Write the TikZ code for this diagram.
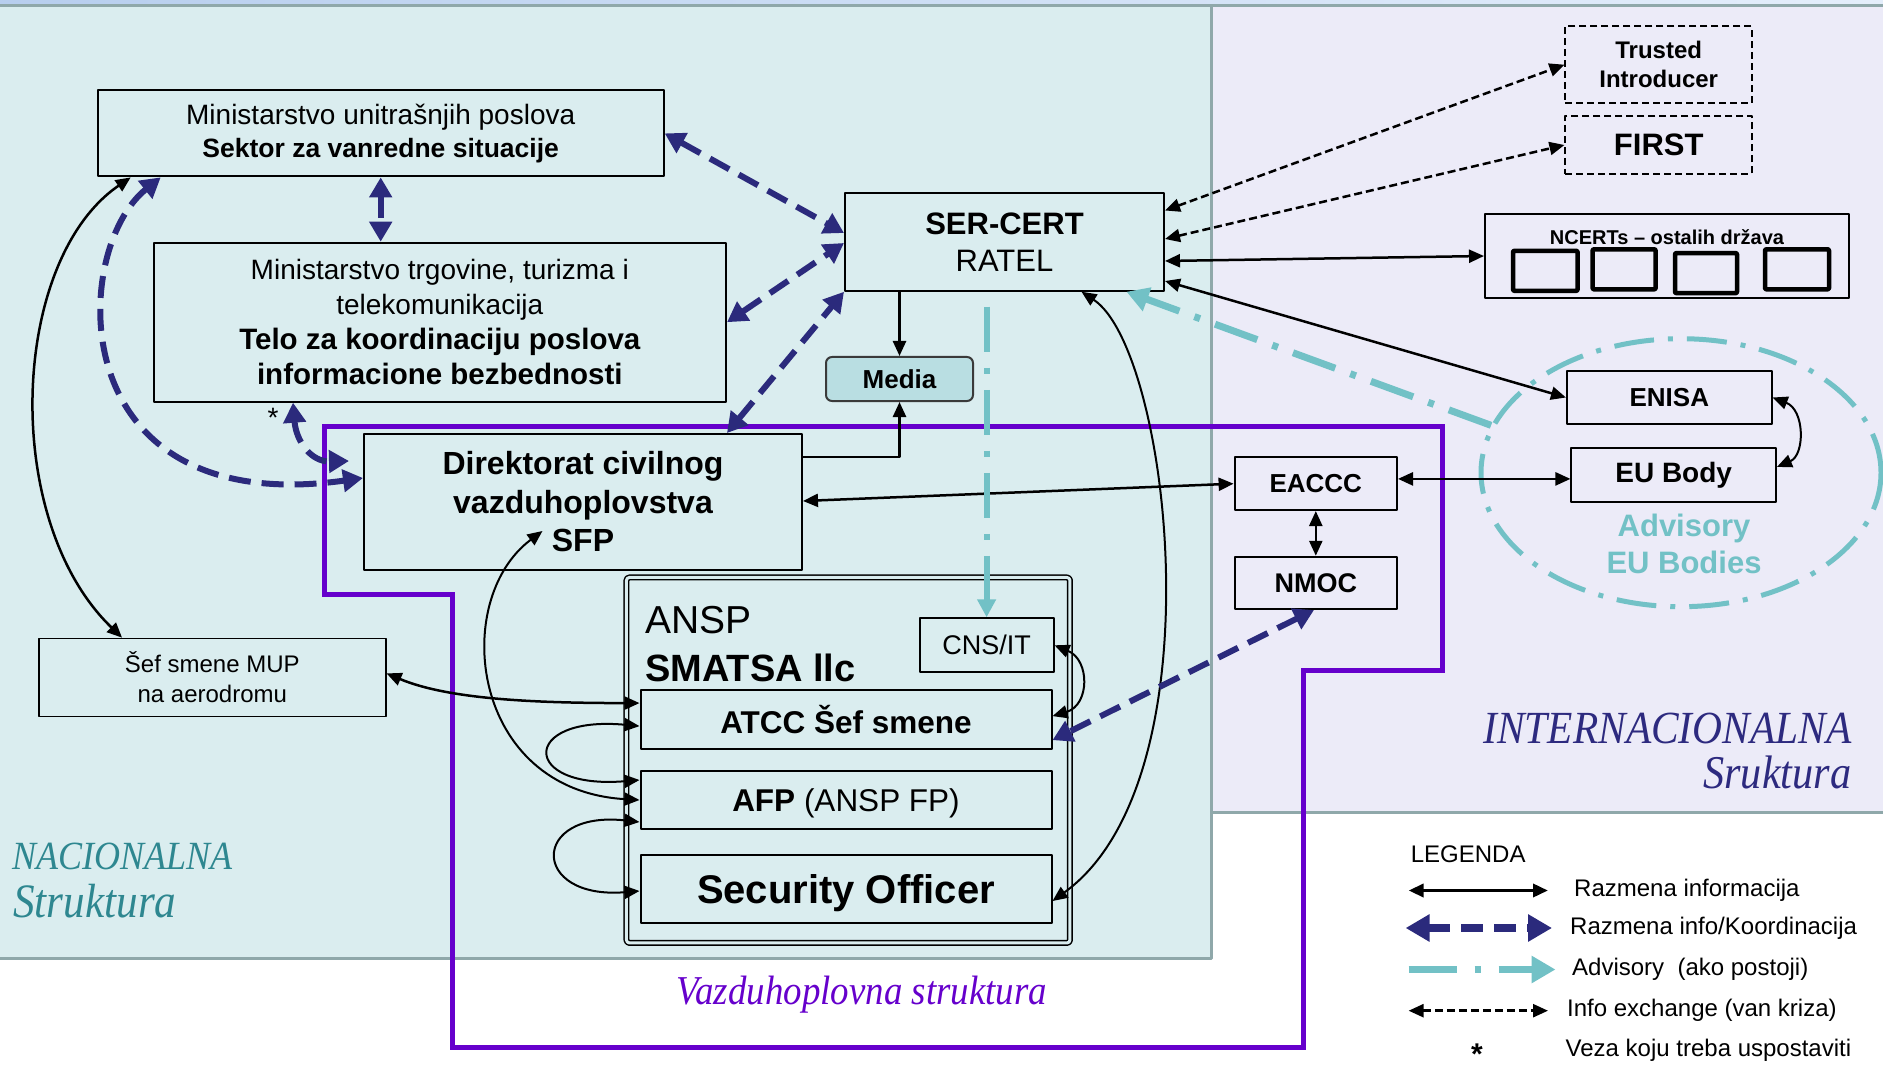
\documentclass[tikz,border=0pt]{standalone}
\usepackage{fontspec}
\setmainfont{Liberation Sans}
\newfontfamily\condserif[FakeStretch=0.9]{Liberation Serif}
\usepackage{tikz}
\usetikzlibrary{arrows.meta}
\usetikzlibrary{shapes, positioning}

\definecolor{natpanel}{HTML}{DAEDEF}
\definecolor{intpanel}{HTML}{ECEBF8}
\definecolor{panelline}{HTML}{8FA8AA}
\definecolor{stripl}{HTML}{B7CEEE}
\definecolor{stripr}{HTML}{E4EEFB}
\definecolor{coordblue}{HTML}{2B2A7C}
\definecolor{advteal}{HTML}{72C1C6}
\definecolor{avpurple}{HTML}{6600CC}
\definecolor{natteal}{HTML}{2E8790}
\definecolor{intnavy}{HTML}{2D2A7F}
\definecolor{mediafill}{HTML}{B9DEE2}
\definecolor{mediadraw}{HTML}{3A3A3A}

\tikzset{
  box/.style={draw, line width=2pt, inner sep=0pt, align=center},
  cert/.style={draw, line width=4.5pt, rounded corners=1pt, minimum height=40pt, inner sep=0pt},
  label/.style={inner sep=0pt, align=center},
  both/.style={line width=2.5pt, {Triangle[length=15pt,width=13pt]}-{Triangle[length=15pt,width=13pt]}},
  single/.style={line width=2.5pt, -{Triangle[length=15pt,width=13pt]}},
  crisis/.style={coordblue, line width=6pt, dash pattern=on 22pt off 11pt, {Triangle[length=20pt,width=22pt]}-{Triangle[length=20pt,width=22pt]}},
  exch/.style={line width=2.5pt, dash pattern=on 8pt off 4pt, {Triangle[length=15pt,width=13pt]}-{Triangle[length=15pt,width=13pt]}},
  advice/.style={advteal, line width=7pt, dash pattern=on 45pt off 16pt on 6pt off 16pt, -{Triangle[length=22pt,width=24pt]}},
  region/.style={avpurple, line width=5pt, line join=miter},
  panel/.style={panelline, line width=3pt},
  legtext/.style={anchor=west, inner sep=0pt, font=\fontsize{24}{28}\selectfont},
}

\begin{document}
\begin{tikzpicture}[x=1pt,y=-1pt,line join=bevel,]
%%
\useasboundingbox (0,0) rectangle (1883,1067);
\fill [white] (0,0) rectangle (1883,1067);
\shade [left color=stripl, right color=stripr] (0,0) rectangle (1883,6);
\draw [panel, fill=natpanel] (-3,6) rectangle (1211,958);
\draw [panel, fill=intpanel] (1211,6) rectangle (1890,812);
\draw [region] (324,426) -- (1442.6,426) -- (1442.6,670) -- (1303.7,670) -- (1303.7,1047) -- (452.5,1047) -- (452.5,594) -- (324,594) -- cycle;
%
\node (node_mup) at (380.7,133.4) [box, minimum width=566pt, minimum height=86pt, font=\fontsize{28}{33}\selectfont] {Ministarstvo unitrašnjih poslova\\{\bfseries\fontsize{26.5}{33}\selectfont Sektor za vanredne situacije}};
\node (node_telo) at (439.8,322.2) [box, minimum width=572.5pt, minimum height=159pt, font=\fontsize{28}{35}\selectfont] {Ministarstvo trgovine, turizma i\\telekomunikacija\\{\bfseries\fontsize{29.5}{35}\selectfont Telo za koordinaciju poslova}\\{\bfseries\fontsize{29.5}{35}\selectfont informacione bezbednosti}};
\node (node_sercert) at (1004.5,242) [box, minimum width=319pt, minimum height=97.5pt, font=\fontsize{31}{37}\selectfont] {\textbf{SER-CERT}\\RATEL};
\node (node_media) at (899.5,379) [box, fill=mediafill, draw=mediadraw, rounded corners=6pt, minimum width=147pt, minimum height=44pt, font=\fontsize{26}{30}\selectfont\bfseries] {Media};
\node (node_dcv) at (583,502) [box, minimum width=438pt, minimum height=136pt, font=\fontsize{32}{38.5}\selectfont\bfseries] {Direktorat civilnog\\vazduhoplovstva\\SFP};
\node (node_star) at (273,418) [label, font=\fontsize{28}{32}\selectfont] {*};
\node (node_mupsmena) at (212.3,677.4) [box, line width=1.5pt, minimum width=347pt, minimum height=78pt, font=\fontsize{24}{30}\selectfont] {Šef smene MUP\\na aerodromu};
\node (node_ansp) at (848.2,760.2) [draw, double=natpanel, double distance=3pt, line width=1.5pt, rounded corners=3pt, minimum width=443.5pt, minimum height=365.5pt] {};
\node (node_ansptitle) at (645,620) [label, anchor=west, font=\fontsize{39}{44}\selectfont] {ANSP};
\node (node_smatsa) at (645,668) [label, anchor=west, font=\fontsize{38}{44}\selectfont\bfseries] {SMATSA llc};
\node (node_cnsit) at (986.6,645.3) [box, minimum width=134pt, minimum height=54pt, font=\fontsize{27}{32}\selectfont] {CNS/IT};
\node (node_atcc) at (846,719.1) [box, minimum width=411pt, minimum height=59pt, font=\fontsize{31.5}{36}\selectfont\bfseries] {ATCC Šef smene};
\node (node_afp) at (846,800) [box, text depth=0pt, minimum width=411pt, minimum height=58pt, font=\fontsize{31.5}{36}\selectfont] {\textbf{AFP} (ANSP FP)};
\node (node_secoff) at (846,889) [box, text depth=0pt, minimum width=411pt, minimum height=68pt, font=\fontsize{40}{46}\selectfont\bfseries] {Security Officer};
\node (node_ti) at (1658.7,64.7) [box, dash pattern=on 7pt off 4pt, minimum width=186.5pt, minimum height=77pt, font=\fontsize{24}{29}\selectfont\bfseries] {Trusted\\Introducer};
\node (node_first) at (1658.7,145) [box, dash pattern=on 7pt off 4pt, minimum width=186.5pt, minimum height=58pt, font=\fontsize{31}{36}\selectfont\bfseries] {FIRST};
\node (node_ncerts) at (1667,256) [box, minimum width=364pt, minimum height=84pt] {};
\node (node_ncertsname) at (1667,237) [label, font=\fontsize{20}{24}\selectfont\bfseries] {NCERTs – ostalih država};
\node (node_ncert1) at (1545.3,270.8) [cert, minimum width=64.5pt] {};
\node (node_ncert2) at (1624.1,269.3) [cert, minimum width=63pt] {};
\node (node_ncert3) at (1706,273.1) [cert, minimum width=62pt] {};
\node (node_ncert4) at (1797,269.3) [cert, minimum width=64pt] {};
\node (node_advisory) at (1681,472.7) [ellipse, draw=advteal, line width=5pt, dash pattern=on 40pt off 14pt on 5pt off 14pt, minimum width=400pt, minimum height=268pt, inner sep=0pt] {};
\node (node_enisa) at (1669.3,397.5) [box, minimum width=204.7pt, minimum height=53pt, font=\fontsize{26}{30}\selectfont\bfseries] {ENISA};
\node (node_eubody) at (1673.7,474.9) [box, minimum width=204.5pt, minimum height=54pt, font=\fontsize{28}{32}\selectfont\bfseries] {EU Body};
\node (node_advname) at (1684,544) [label, text=advteal, font=\fontsize{31}{36.5}\selectfont\bfseries] {Advisory\\EU Bodies};
\node (node_eaccc) at (1315.8,483.7) [box, minimum width=162.4pt, minimum height=52.7pt, font=\fontsize{26}{30}\selectfont\bfseries] {EACCC};
\node (node_nmoc) at (1315.8,582.9) [box, minimum width=162.4pt, minimum height=52.3pt, font=\fontsize{27}{30}\selectfont\bfseries] {NMOC};
\node (node_nac) at (12.6,856) [label, anchor=west, text=natteal, font=\condserif\itshape\fontsize{40}{44}\selectfont] {NACIONALNA};
\node (node_nacstr) at (13,901) [label, anchor=west, text=natteal, font=\condserif\itshape\fontsize{48}{52}\selectfont] {Struktura};
\node (node_int) at (1851.6,728) [label, anchor=east, text=intnavy, font=\condserif\itshape\fontsize{46}{50}\selectfont] {INTERNACIONALNA};
\node (node_intstr) at (1851.6,772.6) [label, anchor=east, text=intnavy, font=\condserif\itshape\fontsize{47}{50}\selectfont] {Sruktura};
\node (node_vazd) at (862,995) [label, text=avpurple, font=\condserif\itshape\fontsize{41}{44}\selectfont] {Vazduhoplovna struktura};
%
\draw [both] ([xshift=34pt]node_mup.south west) .. controls (10,260) and (0,520) .. ([xshift=84pt]node_mupsmena.north west);
\draw [both] ([yshift=4pt]node_mupsmena.east) .. controls (450,700) and (540,703) .. ([yshift=16pt]node_atcc.west);
\draw [both, line width=2pt] ([yshift=-7pt]node_atcc.west) .. controls (520,715) and (520,790) .. ([yshift=20pt]node_afp.west);
\draw [both, line width=2pt] ([yshift=-22pt]node_afp.west) .. controls (530,810) and (530,900) .. ([yshift=-2pt]node_secoff.west);
\draw [both, line width=2pt] ([xshift=-40.5pt,yshift=40pt]node_dcv.south) .. controls (450,600) and (470,790) .. (node_afp.west);
\draw [both, line width=2pt] ([xshift=77pt]node_sercert.south) .. controls (1170,350) and (1220,780) .. ([yshift=-12pt]node_secoff.east);
\draw [both, line width=2pt] (node_cnsit.east) .. controls (1090,660) and (1090,705) .. ([yshift=3pt]node_atcc.east);
\draw [single] (node_sercert.south -| node_media.north) -- (node_media.north);
\draw [single] ([yshift=45pt]node_dcv.east) -| (node_media.south);
\draw [both] ([yshift=1pt]node_dcv.east) -- (node_eaccc.west);
\draw [both] ([yshift=4.8pt]node_eaccc.east) -- ([yshift=-4pt]node_eubody.west);
\draw [both] (node_eaccc.south) -- (node_nmoc.north);
\draw [both] ([yshift=-19pt]node_sercert.east) -- (node_ncerts.west);
\draw [both] ([yshift=-39pt]node_sercert.east) -- (node_enisa.west);
\draw [both, line width=2pt] (node_enisa.east) .. controls (1805,410) and (1805,455) .. ([yshift=8pt]node_eubody.east);
\draw [exch] ([yshift=31.5pt]node_sercert.east) -- (node_ti.west);
\draw [exch] ([yshift=3pt]node_sercert.east) -- (node_first.west);
%
\draw [crisis] (node_mup.east) -- ([yshift=9pt]node_sercert.west);
\draw [crisis] (node_mup.south) -- (node_mup.south |- node_telo.north);
\draw [crisis] (node_telo.east) -- ([yshift=-1pt]node_sercert.west);
\draw [crisis] ([xshift=-76pt]node_dcv.north east) -- (node_sercert.south west);
\draw [crisis] ([xshift=64pt]node_mup.south west) .. controls (70,250) and (60,520) .. ([yshift=24pt]node_dcv.west);
\draw [crisis] ([xshift=140.5pt]node_telo.south west) .. controls (296,440) and (310,462) .. ([xshift=-14pt,yshift=41pt]node_dcv.west);
\draw [crisis] ([xshift=-1.8pt]node_nmoc.south) -- ([yshift=-21pt]node_atcc.east);
%
\coordinate (adv_top) at (node_cnsit.north |- node_sercert.south);
\draw [advice] (node_advisory.166) -- ([xshift=122pt]node_sercert.south);
\draw [advice, line width=6pt, -{Triangle[length=18pt,width=18pt]}] ([yshift=-15pt]adv_top) -- (node_cnsit.north);
%
\node (node_legenda) at (1410.6,854) [legtext] {LEGENDA};
\coordinate (leg_1a) at (1408.6,890.5);
\coordinate (leg_1b) at (1548,890.5);
\coordinate (leg_2a) at (1405.6,928);
\coordinate (leg_2b) at (1552,928);
\coordinate (leg_3a) at (1408.6,969.5);
\coordinate (leg_3b) at (1555.5,969.5);
\coordinate (leg_4a) at (1408.6,1010.7);
\coordinate (leg_4b) at (1548,1010.7);
\draw [both, line width=3.5pt] (leg_1a) -- (leg_1b);
\draw [crisis, line width=8pt, {Triangle[length=24pt,width=26pt]}-{Triangle[length=24pt,width=26pt]}] (leg_2a) -- (leg_2b);
\draw [advice, dash pattern=on 48pt off 18pt on 6pt off 18pt, -{Triangle[length=24pt,width=26pt]}] (leg_3a) -- (leg_3b);
\draw [exch] (leg_4a) -- (leg_4b);
\node (node_leg1) at (1574,890.5) [legtext] {Razmena informacija};
\node (node_leg2) at (1570,928) [legtext] {Razmena info/Koordinacija};
\node (node_leg3) at (1572,969.5) [legtext] {Advisory~~(ako postoji)};
\node (node_leg4) at (1567,1010.7) [legtext] {Info exchange (van kriza)};
\node (node_legstar) at (1477,1054) [label, font=\fontsize{30}{32}\selectfont\bfseries] {*};
\node (node_leg5) at (1565.5,1050) [legtext] {Veza koju treba uspostaviti};
%
\end{tikzpicture}
\end{document}
